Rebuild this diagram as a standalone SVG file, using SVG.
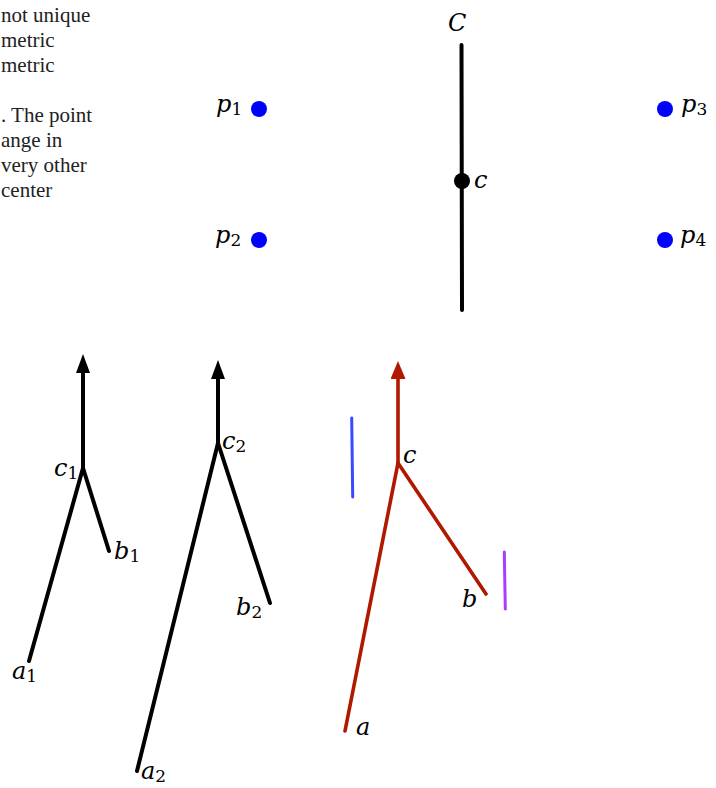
<svg xmlns="http://www.w3.org/2000/svg" width="716" height="788" viewBox="0 0 716 788">
<style>
.txt{font-family:"Liberation Serif","Times New Roman",serif;font-size:21px;fill:#222}
.m{font-family:"DejaVu Serif","Liberation Serif",serif;font-style:italic;font-size:24px;fill:#000}
.sub{font-style:normal;font-size:17px}
.blk{stroke:#000;stroke-width:4;fill:none;stroke-linecap:round}
.red{stroke:#b01800;stroke-width:3.6;fill:none;stroke-linecap:round}
.pt{fill:#0000ff}
</style>
<defs>
<marker id="ahB" viewBox="0 0 19 14" refX="0" refY="7" markerWidth="19" markerHeight="14" markerUnits="userSpaceOnUse" orient="auto"><path d="M0,0 L19,7 L0,14 z" fill="#000"/></marker>
<marker id="ahR" viewBox="0 0 18 15" refX="0" refY="7.5" markerWidth="18" markerHeight="15" markerUnits="userSpaceOnUse" orient="auto"><path d="M0,0 L18,7.5 L0,15 z" fill="#b01800"/></marker>
</defs>
<rect width="716" height="788" fill="#fff"/>
<g id="caption">
<text class="txt" x="1" y="22">not unique</text>
<text class="txt" x="1" y="47">metric</text>
<text class="txt" x="1" y="72">metric</text>
<text class="txt" x="1" y="122">. The point</text>
<text class="txt" x="1" y="147">ange in</text>
<text class="txt" x="1" y="172">very other</text>
<text class="txt" x="1" y="197">center</text>
</g>
<g id="connectors">
<line class="blk" x1="461.5" y1="45" x2="462" y2="310"/>
<line x1="83" y1="468" x2="83" y2="373" stroke="#000" stroke-width="4" marker-end="url(#ahB)"/>
<line class="blk" x1="83" y1="468" x2="29" y2="661"/>
<line class="blk" x1="83" y1="468" x2="109" y2="551"/>
<line x1="218" y1="443" x2="218" y2="379" stroke="#000" stroke-width="4" marker-end="url(#ahB)"/>
<line class="blk" x1="218" y1="443" x2="137" y2="771"/>
<line class="blk" x1="218" y1="443" x2="270" y2="603"/>
<line x1="398" y1="463" x2="398" y2="379" stroke="#b01800" stroke-width="3.6" marker-end="url(#ahR)"/>
<line class="red" x1="398" y1="463" x2="345" y2="731"/>
<line class="red" x1="398" y1="463" x2="486" y2="594"/>
<line x1="351.7" y1="418" x2="352.7" y2="497" stroke="#3a48ff" stroke-width="3" stroke-linecap="round"/>
<line x1="504.3" y1="552" x2="505.3" y2="609" stroke="#a83cff" stroke-width="3" stroke-linecap="round"/>
</g>
<g id="p1"><circle class="pt" cx="259" cy="109" r="8"/><text class="m" x="216" y="112">p<tspan class="sub" dy="3">1</tspan></text></g>
<g id="p2"><circle class="pt" cx="259" cy="240" r="8"/><text class="m" x="215" y="243">p<tspan class="sub" dy="3">2</tspan></text></g>
<g id="p3"><circle class="pt" cx="665" cy="109" r="8"/><text class="m" x="681" y="112">p<tspan class="sub" dy="3">3</tspan></text></g>
<g id="p4"><circle class="pt" cx="665" cy="240" r="8"/><text class="m" x="680" y="243">p<tspan class="sub" dy="3">4</tspan></text></g>
<g id="C"><text class="m" x="448" y="31" font-size="26">C</text></g>
<g id="c"><circle cx="462" cy="181" r="8" fill="#000"/><text class="m" x="474" y="188">c</text></g>
<g id="c1"><text class="m" x="54" y="476">c<tspan class="sub" dy="3">1</tspan></text></g>
<g id="a1"><text class="m" x="12" y="679">a<tspan class="sub" dy="3">1</tspan></text></g>
<g id="b1"><text class="m" x="114" y="559">b<tspan class="sub" dy="3">1</tspan></text></g>
<g id="c2"><text class="m" x="222" y="449">c<tspan class="sub" dy="3">2</tspan></text></g>
<g id="a2"><text class="m" x="141" y="779">a<tspan class="sub" dy="3">2</tspan></text></g>
<g id="b2"><text class="m" x="236" y="615">b<tspan class="sub" dy="3">2</tspan></text></g>
<g id="cr"><text class="m" x="403" y="463">c</text></g>
<g id="br"><text class="m" x="462" y="607">b</text></g>
<g id="ar"><text class="m" x="356" y="735">a</text></g>
</svg>
